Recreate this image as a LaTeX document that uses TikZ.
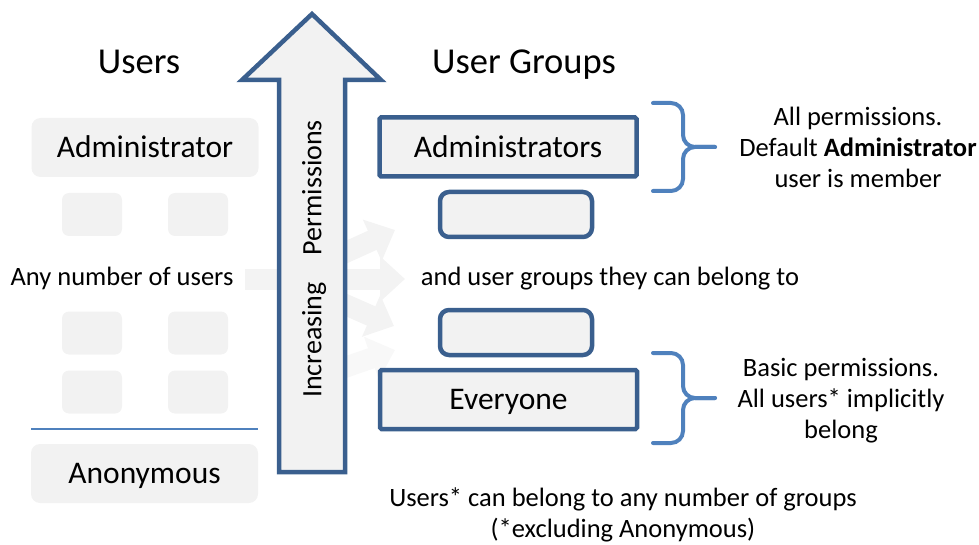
\documentclass[tikz,border=0pt]{standalone}
\usepackage{fontspec}
\setmainfont{Carlito}
\usetikzlibrary{arrows.meta}
\definecolor{panel}{HTML}{F2F2F2}
\definecolor{frame}{HTML}{3A5F8E}
\definecolor{accent}{HTML}{4F81BD}
\definecolor{ghost}{HTML}{F3F3F3}

\begin{document}
\begin{tikzpicture}[x=1pt,y=-1pt,
 title/.style={text height=24pt,text depth=0pt,font=\fontsize{36.5}{40}\selectfont},
 label/.style={text height=20.8pt,text depth=0pt,font=\fontsize{31.5}{36}\selectfont},
 note/.style={font=\fontsize{26.5}{31}\selectfont,align=center},
 oneline/.style={text height=17.5pt,text depth=0pt},
 userbox/.style={label,fill=panel,rounded corners=9pt,
                 minimum width=227pt,minimum height=59pt},
 slot/.style={fill=panel,rounded corners=7pt,minimum width=60pt,minimum height=43pt},
 groupbox/.style={label,draw=frame,line width=4.5pt,fill=panel,rounded corners=1.5pt,
                  minimum width=257pt,minimum height=59pt},
 sparebox/.style={draw=frame,line width=4.5pt,fill=panel,rounded corners=9pt,
                  minimum width=152pt,minimum height=45pt},
 fan/.style={ghost,line width=21pt},
 fanhead/.style={fan,-{Triangle[width=44pt,length=25pt]}},
 brace/.style={accent,line width=4pt,rounded corners=12pt,line cap=round}]
\useasboundingbox (0,0) rectangle (979,545);

% faint fan of arrows behind the big arrow
\coordinate (hub) at (287,279);
\coordinate (hublow) at (300,383);
\coordinate (fanstart) at (245,279);
\coordinate (tipA) at (395,230);
\coordinate (tipB) at (405,279);
\coordinate (tipC) at (394,326);
\coordinate (tipD) at (395,350);
\draw[fan] (fanstart) -- (hub);
\draw[fanhead] (hub) -- (tipA);
\draw[fanhead] (hub) -- (tipB);
\draw[fanhead] (hub) -- (tipC);
\draw[fanhead,ghost!55!white] (hublow) -- (tipD);

% users column
\node[title] (usersT) at (139,62) {Users};
\node[userbox] (admin) at (145,147.5) {Administrator};
\node[slot] (s1) at (92,214.5) {};
\node[slot] (s2) at (198,214.5) {};
\node[note,oneline] (anyusers) at (122,277) {Any number of users};
\node[slot] (s3) at (92,333) {};
\node[slot] (s4) at (198,333) {};
\node[slot] (s5) at (92,392) {};
\node[slot] (s6) at (198,392) {};
\coordinate (sepL) at (31,429);
\coordinate (sepR) at (258,429);
\draw[accent,line width=1.5pt] (sepL) -- (sepR);
\node[userbox] (anon) at (144.5,473.5) {Anonymous};

% big arrow
\draw[frame,line width=4.5pt,fill=panel,line join=miter]
  (279,472) -- (279,80) -- (242,80) -- (312,14) -- (381,80) -- (345,80) -- (345,472) -- cycle;
\node[label,text height=18.5pt,font=\fontsize{28}{32}\selectfont,rotate=90] (perm) at (312,259)
  {Increasing\hspace{27pt}Permissions};

% user groups column
\node[title] (groupsT) at (524,62) {User Groups};
\node[groupbox] (admins) at (508,147) {Administrators};
\node[sparebox] (g1) at (516,214.5) {};
\node[note,oneline] (belong) at (610,277) {and user groups they can belong to};
\node[sparebox] (g2) at (516,332.5) {};
\node[groupbox] (everyone) at (508.5,399.5) {Everyone};

% braces and their notes
\draw[brace] (653,103) -| (683,147) -- (715,147);
\draw[brace] (653,191) -| (683,147) -- (715,147);
\node[note] (adminnote) at (858,147.5)
  {All permissions.\\Default \textbf{Administrator}\\user is member};
\draw[brace] (653,353) -| (683,398) -- (715,398);
\draw[brace] (653,443) -| (683,398) -- (715,398);
\node[note] (everyonenote) at (841,400.5)
  {Basic permissions.\\All users* implicitly\\belong};

\node[note] (footer) at (623,515)
  {Users* can belong to any number of groups\\(*excluding Anonymous)};
\end{tikzpicture}
\end{document}
